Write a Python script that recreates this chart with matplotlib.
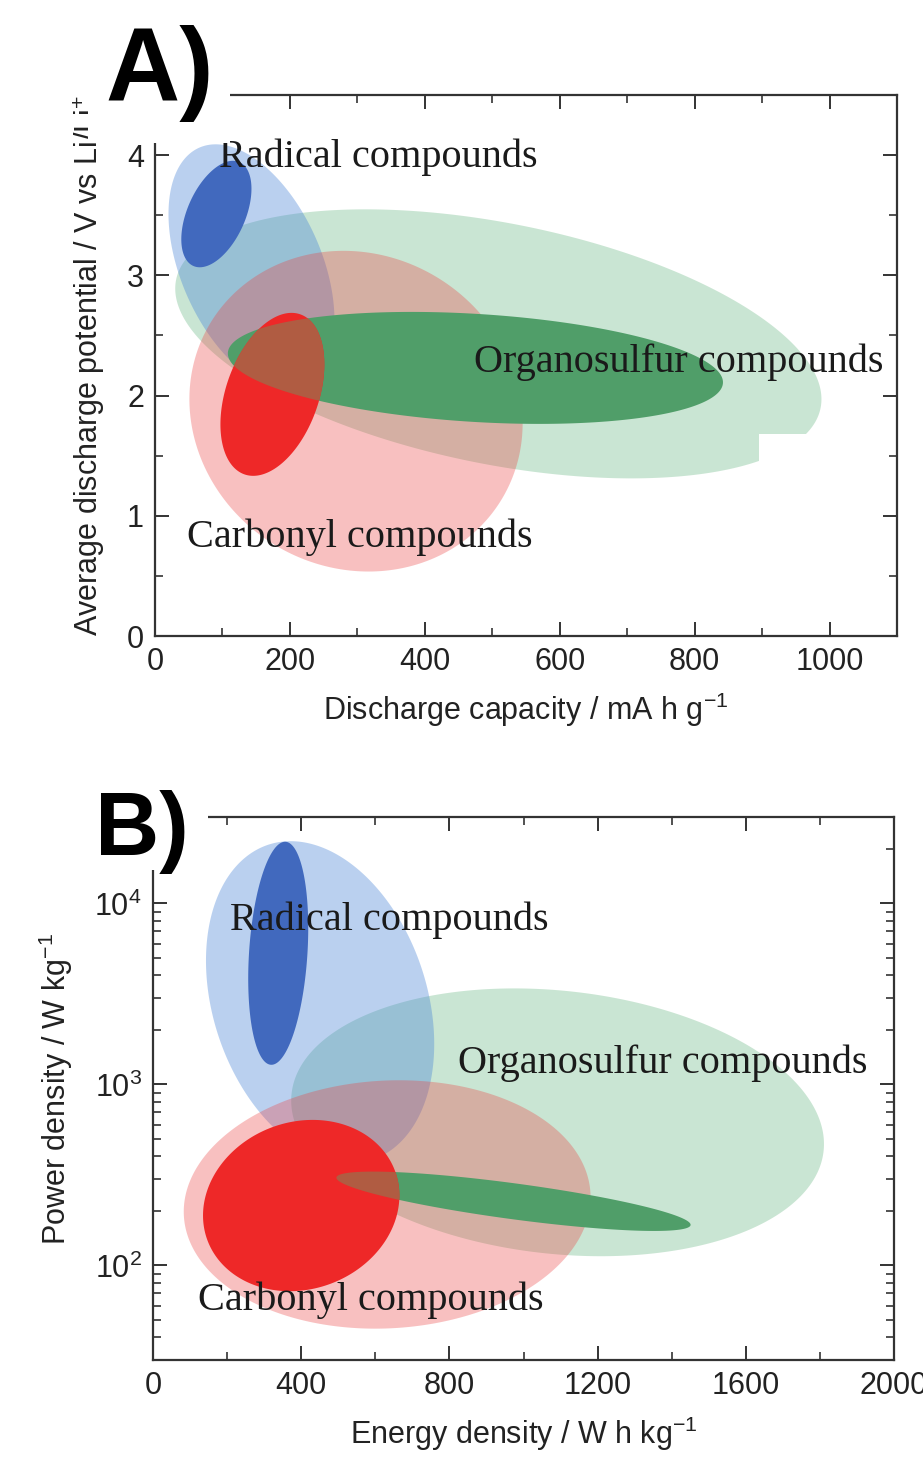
import numpy as np
import matplotlib
matplotlib.use('Agg')
import matplotlib.pyplot as plt
from matplotlib.patches import Rectangle
from matplotlib.ticker import MultipleLocator, LogLocator, FixedLocator, NullFormatter

plt.rcParams['font.family'] = ['Liberation Sans', 'DejaVu Sans']
plt.rcParams['mathtext.default'] = 'regular'

# region order: outer (light) and inner (dark) for each compound class
regions = ['organosulfur_outer', 'radical_outer', 'carbonyl_outer',
           'organosulfur_inner', 'carbonyl_inner', 'radical_inner']

# A) discharge capacity (mA h g-1) vs average discharge potential (V)
a_cx = [509, 143, 298, 475, 174, 91]
a_cy = [2.43, 3.07, 1.87, 2.23, 2.01, 3.51]
a_rx = [479, 123, 247, 367, 77, 52]        # half x-span
a_ry = [1.02, 0.92, 1.33, 0.45, 0.63, 0.39]  # half thickness (V)
a_rise = [-0.46, -0.44, -0.10, -0.12, 0.25, 0.21]  # y offset at the x extremes

# B) energy density (W h kg-1) vs power density (W kg-1), thickness in decades
b_cx = [1092, 451, 632, 973, 400, 338]
b_cy = [617, 2840, 217, 226, 214, 5300]
b_rx = [719, 308, 549, 478, 265, 81]
b_ry = [0.73, 0.86, 0.685, 0.10, 0.47, 0.60]
b_rise = [-0.12, -0.23, 0.04, -0.13, 0.055, 0.14]

labels = ['Radical compounds', 'Organosulfur compounds', 'Carbonyl compounds']
a_label_xy = [(95, 3.98), (473, 2.28), (48, 0.82)]
b_label_xy = [(208, 8050), (822, 1306), (122, 64)]

styles = {
    'organosulfur_outer': dict(color=(0.31, 0.67, 0.43), alpha=0.30),
    'radical_outer': dict(color=(0.27, 0.51, 0.84), alpha=0.37),
    'carbonyl_outer': dict(color=(0.92, 0.26, 0.26), alpha=0.33),
    'organosulfur_inner': dict(color='#509e69', alpha=1.0),
    'carbonyl_inner': dict(color='#ee2828', alpha=1.0),
    'radical_inner': dict(color='#4169be', alpha=1.0),
}
BROWN = '#b05c42'


def blob(ax, cx, cy, rx, ry, rise, logy=False, **kw):
    t = np.linspace(0, 2 * np.pi, 500)
    x = cx + rx * np.cos(t)
    c = np.log10(cy) if logy else cy
    y = c + ry * np.sin(t) + rise * np.cos(t)
    if logy:
        y = 10 ** y
    return ax.fill(x, y, lw=0, **kw)[0]


def draw_regions(ax, cx, cy, rx, ry, rise, logy=False):
    polys = {}
    for i, name in enumerate(regions):
        polys[name] = blob(ax, cx[i], cy[i], rx[i], ry[i], rise[i], logy=logy,
                           zorder=1 + i, **styles[name])
    # carbonyl/organosulfur overlap
    i = regions.index('carbonyl_inner')
    over = blob(ax, cx[i], cy[i], rx[i], ry[i], rise[i], logy=logy,
                color=BROWN, zorder=5.5)
    over.set_clip_path(polys['organosulfur_inner'])
    return polys


def style_axes(ax):
    for sp in ax.spines.values():
        sp.set_linewidth(1.6)
        sp.set_color('#333333')
    ax.tick_params(which='both', direction='in', top=True, right=True,
                   color='#333333', labelsize=22, labelcolor='#222222', pad=8)
    ax.tick_params(which='major', length=10, width=1.4)
    ax.tick_params(which='minor', length=6, width=1.2)


fig = plt.figure(figsize=(9.23, 14.57), dpi=100)

# ---- A ----
axA = fig.add_axes([155 / 923, 1 - 636 / 1457, 742 / 923, 541 / 1457])
draw_regions(axA, a_cx, a_cy, a_rx, a_ry, a_rise)
axA.add_patch(Rectangle((896, 0.5), 70, 1.18, color='white', lw=0, zorder=3.5))
axA.set_xlim(0, 1100)
axA.set_ylim(0, 4.5)
axA.xaxis.set_major_locator(FixedLocator([0, 200, 400, 600, 800, 1000]))
axA.xaxis.set_minor_locator(MultipleLocator(100))
axA.yaxis.set_major_locator(FixedLocator([0, 1, 2, 3, 4]))
axA.yaxis.set_minor_locator(MultipleLocator(0.5))
style_axes(axA)
axA.set_xlabel('Discharge capacity / mA h g$^{-1}$', fontsize=22, labelpad=10,
               color='#222222')
axA.set_ylabel('Average discharge potential / V vs Li/Li$^{+}$', fontsize=22,
               labelpad=14, color='#222222')
for txt, (x, y) in zip(labels, a_label_xy):
    axA.text(x, y, txt, fontsize=29, family='Liberation Serif', va='center',
             color='#1a1a1a', zorder=10)

# ---- B ----
axB = fig.add_axes([153 / 923, 1 - 1360 / 1457, 741 / 923, 543 / 1457])
axB.set_yscale('log')
draw_regions(axB, b_cx, b_cy, b_rx, b_ry, b_rise, logy=True)
axB.set_xlim(0, 2000)
axB.set_ylim(30, 30000)
axB.xaxis.set_major_locator(MultipleLocator(400))
axB.xaxis.set_minor_locator(MultipleLocator(200))
axB.yaxis.set_major_locator(FixedLocator([100, 1000, 10000]))
axB.yaxis.set_major_formatter(plt.FuncFormatter(lambda v, p: '$10^{%d}$' % round(np.log10(v))))
axB.yaxis.set_minor_locator(LogLocator(base=10, subs=np.arange(2, 10)))
axB.yaxis.set_minor_formatter(NullFormatter())
style_axes(axB)
axB.set_xlabel('Energy density / W h kg$^{-1}$', fontsize=22, labelpad=10,
               color='#222222')
axB.set_ylabel('Power density / W kg$^{-1}$', fontsize=22, labelpad=14,
               color='#222222')
for txt, (x, y) in zip(labels, b_label_xy):
    axB.text(x, y, txt, fontsize=29, family='Liberation Serif', va='center',
             color='#1a1a1a', zorder=10)

# panel tags sit on white patches over the top-left corners
fig.add_artist(Rectangle((88 / 923, 1 - 143 / 1457), 142 / 923, 143 / 1457,
                         transform=fig.transFigure, color='white', lw=0, zorder=5))
fig.add_artist(Rectangle((80 / 923, 1 - 870 / 1457), 128 / 923, 110 / 1457,
                         transform=fig.transFigure, color='white', lw=0, zorder=5))
fig.text(105 / 923, 1 - 100 / 1457, 'A)', fontsize=74, fontweight='bold',
         va='baseline', zorder=6)
fig.text(95 / 923, 1 - 855 / 1457, 'B)', fontsize=64, fontweight='bold',
         va='baseline', zorder=6)

fig.savefig('out.png', dpi=100)
